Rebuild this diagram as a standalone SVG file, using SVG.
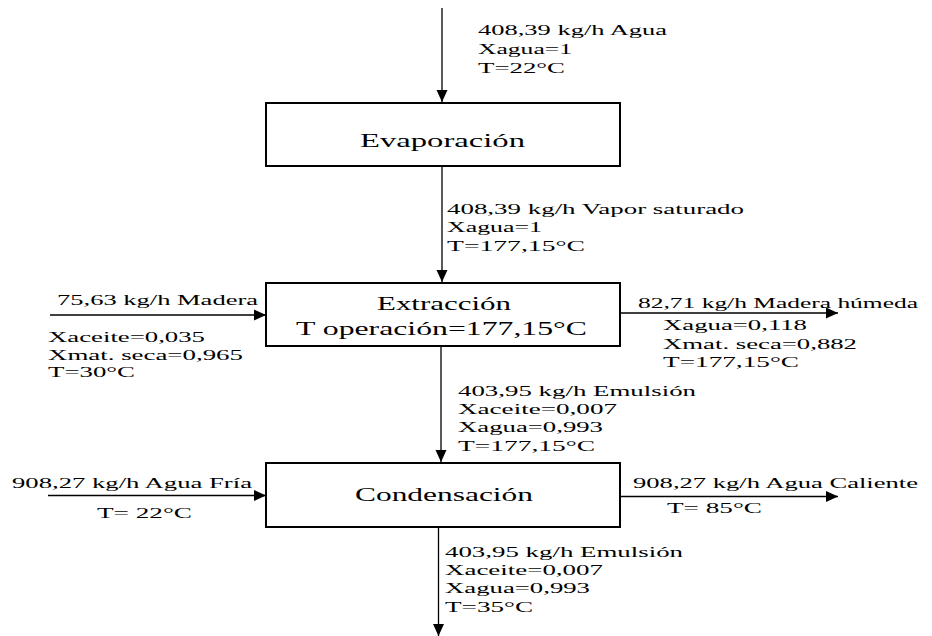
<svg xmlns="http://www.w3.org/2000/svg" width="932" height="636" viewBox="0 0 932 636">
  <defs>
    <style>
      .box { fill: #ffffff; stroke: #000000; stroke-width: 2; }
      .flow { fill: none; stroke: #000000; stroke-width: 1.3; marker-end: url(#head); }
      text { font-family: "Liberation Serif", "Times New Roman", "DejaVu Serif", serif; fill: #000000; }
      .lbl { font-size: 15.5px; }
      .unit { font-size: 18.5px; }
    </style>
    <marker id="head" viewBox="0 0 12 12" refX="12" refY="6" markerWidth="12" markerHeight="12" markerUnits="userSpaceOnUse" orient="auto">
      <path d="M0,0.5 L12,6 L0,11.5 Z" fill="#000000"/>
    </marker>
  </defs>

  <rect width="932" height="636" fill="#ffffff"/>

  <!-- connectors -->
  <g id="connectors">
    <line class="flow" x1="442" y1="8" x2="442" y2="102"/>
    <line class="flow" x1="442" y1="166" x2="442" y2="282"/>
    <line class="flow" x1="50" y1="315" x2="266" y2="315"/>
    <line class="flow" x1="620" y1="313" x2="838" y2="313"/>
    <line class="flow" x1="441" y1="346" x2="441" y2="462"/>
    <line class="flow" x1="48" y1="495.5" x2="266" y2="495.5"/>
    <line class="flow" x1="620" y1="496.5" x2="838" y2="496.5"/>
    <line class="flow" x1="438.5" y1="527" x2="438.5" y2="636"/>
  </g>

  <!-- process units -->
  <g id="evaporacion">
    <rect class="box" x="266" y="103" width="354" height="63"/>
    <text class="unit" x="360" y="147" textLength="165" lengthAdjust="spacingAndGlyphs">Evaporación</text>
  </g>
  <g id="extraccion">
    <rect class="box" x="266" y="283" width="354" height="63"/>
    <text class="unit" x="377" y="310" textLength="134" lengthAdjust="spacingAndGlyphs">Extracción</text>
    <text class="unit" x="296" y="335" textLength="291" lengthAdjust="spacingAndGlyphs">T operación=177,15°C</text>
  </g>
  <g id="condensacion">
    <rect class="box" x="266" y="463" width="354" height="64"/>
    <text class="unit" x="355" y="501" textLength="178" lengthAdjust="spacingAndGlyphs">Condensación</text>
  </g>

  <!-- stream data -->
  <g id="agua-entrada" class="lbl">
    <text x="478" y="35" textLength="189" lengthAdjust="spacingAndGlyphs">408,39 kg/h Agua</text>
    <text x="478" y="54" textLength="94" lengthAdjust="spacingAndGlyphs">Xagua=1</text>
    <text x="478" y="73" textLength="87" lengthAdjust="spacingAndGlyphs">T=22°C</text>
  </g>
  <g id="vapor" class="lbl">
    <text x="447" y="214" textLength="297" lengthAdjust="spacingAndGlyphs">408,39 kg/h Vapor saturado</text>
    <text x="447" y="232" textLength="95" lengthAdjust="spacingAndGlyphs">Xagua=1</text>
    <text x="447" y="251" textLength="138" lengthAdjust="spacingAndGlyphs">T=177,15°C</text>
  </g>
  <g id="madera" class="lbl">
    <text x="57" y="305" textLength="201" lengthAdjust="spacingAndGlyphs">75,63 kg/h Madera</text>
    <text x="48" y="341.5" textLength="157" lengthAdjust="spacingAndGlyphs">Xaceite=0,035</text>
    <text x="48" y="359.5" textLength="195" lengthAdjust="spacingAndGlyphs">Xmat. seca=0,965</text>
    <text x="48" y="377" textLength="87" lengthAdjust="spacingAndGlyphs">T=30°C</text>
  </g>
  <g id="madera-humeda" class="lbl">
    <text x="638" y="308" textLength="280" lengthAdjust="spacingAndGlyphs">82,71 kg/h Madera húmeda</text>
    <text x="663" y="330" textLength="144" lengthAdjust="spacingAndGlyphs">Xagua=0,118</text>
    <text x="663" y="349" textLength="194" lengthAdjust="spacingAndGlyphs">Xmat. seca=0,882</text>
    <text x="663" y="367" textLength="136" lengthAdjust="spacingAndGlyphs">T=177,15°C</text>
  </g>
  <g id="emulsion-caliente" class="lbl">
    <text x="458" y="396" textLength="238" lengthAdjust="spacingAndGlyphs">403,95 kg/h Emulsión</text>
    <text x="458" y="414" textLength="159" lengthAdjust="spacingAndGlyphs">Xaceite=0,007</text>
    <text x="458" y="432" textLength="145" lengthAdjust="spacingAndGlyphs">Xagua=0,993</text>
    <text x="458" y="450.5" textLength="137" lengthAdjust="spacingAndGlyphs">T=177,15°C</text>
  </g>
  <g id="agua-fria" class="lbl">
    <text x="12" y="488" textLength="240" lengthAdjust="spacingAndGlyphs">908,27 kg/h Agua  Fría</text>
    <text x="97" y="517.5" textLength="95" lengthAdjust="spacingAndGlyphs">T= 22°C</text>
  </g>
  <g id="agua-caliente" class="lbl">
    <text x="633" y="488" textLength="285" lengthAdjust="spacingAndGlyphs">908,27 kg/h Agua  Caliente</text>
    <text x="667" y="513" textLength="95" lengthAdjust="spacingAndGlyphs">T= 85°C</text>
  </g>
  <g id="emulsion-fria" class="lbl">
    <text x="445" y="556.5" textLength="238" lengthAdjust="spacingAndGlyphs">403,95 kg/h Emulsión</text>
    <text x="445" y="575" textLength="158" lengthAdjust="spacingAndGlyphs">Xaceite=0,007</text>
    <text x="445" y="593" textLength="145" lengthAdjust="spacingAndGlyphs">Xagua=0,993</text>
    <text x="445" y="611.5" textLength="88" lengthAdjust="spacingAndGlyphs">T=35°C</text>
  </g>
</svg>
